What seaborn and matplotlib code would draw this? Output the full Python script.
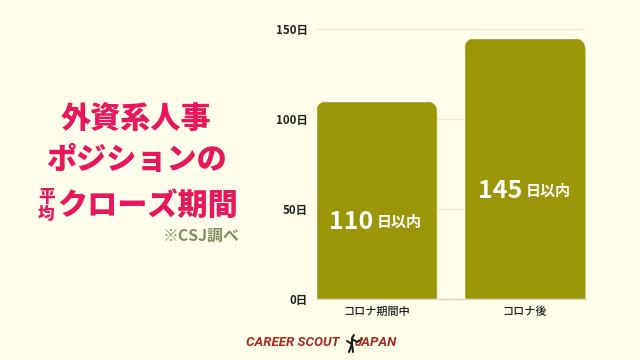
import matplotlib
matplotlib.use("Agg")
import matplotlib.pyplot as plt
from matplotlib.patches import FancyBboxPatch
from matplotlib.transforms import IdentityTransform
import seaborn as sns
import pandas as pd

categories = ["コロナ期間中", "コロナ後"]
days = [110, 145]
value_labels = ["110", "145"]
yticks = [0, 50, 100, 150]
title_lines = ["外資系人事", "ポジションの", "クローズ期間"]

BG = "#FFFFEB"
BAR = "#9A9607"
PINK = "#E8175D"
JP = ["Noto Sans CJK JP", "DejaVu Sans"]

sns.set_theme(style="white")
plt.rcParams["font.family"] = JP

W, H = 640, 360
fig = plt.figure(figsize=(6.4, 3.6), dpi=100, facecolor=BG)
L, R, T, B = 316, 585.5, 29, 299
ax = fig.add_axes([L / W, 1 - B / H, (R - L) / W, (B - T) / H], facecolor=BG)

df = pd.DataFrame({"cat": categories, "days": days})
sns.barplot(data=df, x="cat", y="days", color=BAR, saturation=1, width=0.82, ax=ax, zorder=3)
ax.set_xlim(-0.41, 1.41)
ax.set_ylim(0, 150)
ax.set_yticks(yticks)
ax.set_yticklabels([f"{v}日" for v in yticks], fontsize=8.3, fontweight="bold", color="#222222")
ax.set_xlabel("")
ax.set_ylabel("")
ax.tick_params(axis="y", length=0, pad=6)
ax.tick_params(axis="x", length=0, pad=5.5, labelsize=8, labelcolor="#222222")
for lab in ax.get_xticklabels():
    lab.set_fontweight("medium")
ax.grid(axis="y", color="#ECECD8", lw=0.9, zorder=0)
ax.set_axisbelow(True)
for s in ["top", "left", "right"]:
    ax.spines[s].set_visible(False)
ax.spines["bottom"].set_color("#D8D8C4")
ax.spines["bottom"].set_linewidth(1)

# Rounded top corners: clip each bar in pixel space
fig.canvas.draw()
for p in ax.patches:
    bb = p.get_window_extent()
    r = 13
    clip = FancyBboxPatch((bb.x0 + r, bb.y0 - 20), bb.width - 2 * r, bb.height + 20 - r,
                          boxstyle=f"round,pad={r},rounding_size={r}",
                          transform=IdentityTransform(), fc="none", ec="none")
    p.set_clip_path(clip)

# Value labels inside bars
positions = [(373.5, 222), (522.5, 191)]
for (cx, cy), txt in zip(positions, value_labels):
    fig.text(cx / W, 1 - cy / H, txt, fontsize=18, fontweight="bold", color="white",
             ha="right", va="center", zorder=5)
    fig.text((cx + 3.5) / W, 1 - cy / H, "日以内", fontsize=10.8, fontweight="bold", color="white",
             ha="left", va="center", zorder=5)

# Headline
for line, (x, y) in zip(title_lines, [(136.5, 118), (136.5, 160), (148, 205)]):
    fig.text(x / W, 1 - y / H, line, fontsize=21.7, fontweight="black", color=PINK,
             ha="center", va="center")
fig.text(46.5 / W, 1 - 197 / H, "平", fontsize=12, fontweight="black", color=PINK, ha="center", va="center")
fig.text(46.5 / W, 1 - 214 / H, "均", fontsize=12, fontweight="black", color=PINK, ha="center", va="center")
fig.text(240 / W, 1 - 236 / H, "※CSJ調べ", fontsize=11.4, fontweight="bold", color="#7F8C62",
         ha="right", va="center")

# Logo
fig.text(246.5 / W, 1 - 342 / H, "CAREER SCOUT", fontsize=9.6, fontweight="bold", style="italic",
         color="#A52A22", ha="left", va="center", family=["Roboto", "Liberation Sans"])
fig.text(396.5 / W, 1 - 342 / H, "JAPAN", fontsize=9.6, fontweight="bold", style="italic",
         color="#A52A22", ha="right", va="center", family=["Roboto", "Liberation Sans"])
runner = [[(347, 341), (352, 344), (349, 352)], [(352, 344), (352, 338), (354, 335)],
          [(352, 339), (357, 342), (362, 339)], [(352, 344), (353, 352)]]
for seg in runner:
    xs = [a / W for a, _ in seg]
    ys = [1 - b / H for _, b in seg]
    fig.add_artist(plt.Line2D(xs, ys, color="#1c1c1c", lw=1.5, transform=fig.transFigure))
fig.savefig("out.png", dpi=100, facecolor=BG)
